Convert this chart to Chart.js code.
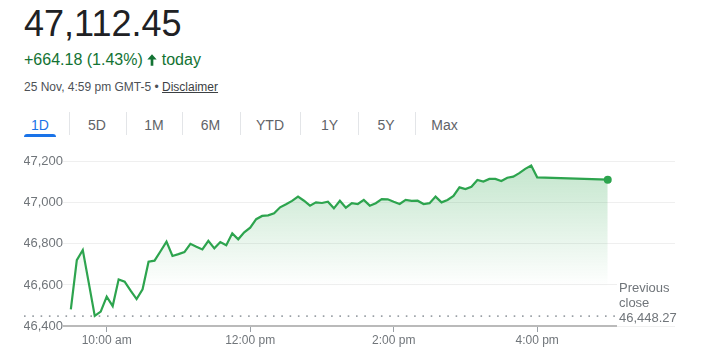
<!DOCTYPE html>
<html>
<head>
<meta charset="utf-8">
<script src="https://cdn.jsdelivr.net/npm/chart.js@4/dist/chart.umd.min.js"></script>
<style>
  html, body { margin: 0; padding: 0; background: #fff; }
  body { width: 706px; height: 356px; position: relative; overflow: hidden; font-family: Arial, "Liberation Sans", sans-serif; }
  .abs { position: absolute; white-space: nowrap; }
  #price { left: 24px; top: 5.5px; font-size: 36px; line-height: 36px; color: #202124; }
  #change { left: 24px; top: 51.5px; font-size: 16px; line-height: 16px; color: #137333; }
  #change svg { vertical-align: top; margin: 0 2px 0 1px; }
  #meta { left: 24px; top: 80.8px; font-size: 12px; line-height: 12px; color: #4d5156; }
  #meta u { color: #3c4043; }
  .tab { top: 117.5px; width: 80px; text-align: center; font-size: 14px; line-height: 14px; color: #5f6368; }
  .tab.active { color: #1a73e8; }
  .sep { top: 112px; width: 1px; height: 23px; background: #e3e5e8; }
  #underline { left: 24px; top: 134px; width: 32px; height: 3px; background: #1a73e8; border-radius: 3px 3px 0 0; }
  #chart { position: absolute; left: 0; top: 140px; }
</style>
</head>
<body>
<div id="price" class="abs">47,112.45</div>
<div id="change" class="abs">+664.18 (1.43%)<svg width="16" height="16" viewBox="0 0 24 24"><path fill="#137333" d="M12 3.5 L19 11.2 H14 V20.5 H10 V11.2 H5 Z"/></svg>today</div>
<div id="meta" class="abs">25 Nov, 4:59 pm GMT-5 • <u>Disclaimer</u></div>
<div id="tabs"></div>
<div id="underline" class="abs"></div>
<canvas id="chart" width="706" height="216"></canvas>
<script>
// ---- data ----
const TIMES = [
  "9:30","9:35","9:40","9:45","9:50","9:55",
  "10:00","10:05","10:10","10:15","10:20","10:25","10:30","10:35","10:40","10:45","10:50","10:55",
  "11:00","11:05","11:10","11:15","11:20","11:25","11:30","11:35","11:40","11:45","11:50","11:55",
  "12:00","12:05","12:10","12:15","12:20","12:25","12:30","12:35","12:40","12:45","12:50","12:55",
  "13:00","13:05","13:10","13:15","13:20","13:25","13:30","13:35","13:40","13:45","13:50","13:55",
  "14:00","14:05","14:10","14:15","14:20","14:25","14:30","14:35","14:40","14:45","14:50","14:55",
  "15:00","15:05","15:10","15:15","15:20","15:25","15:30","15:35","15:40","15:45","15:50","15:55",
  "16:00","16:59"
];
const PRICES = [
  46481, 46721, 46770, 46610, 46449, 46470,
  46543, 46497, 46627, 46616, 46572, 46531, 46579, 46713, 46718, 46764, 46811, 46741,
  46750, 46760, 46800, 46786, 46773, 46815, 46778, 46809, 46793, 46851, 46822, 46856,
  46879, 46920, 46936, 46939, 46949, 46978, 46993, 47009, 47030, 47010, 46986, 47002,
  46999, 47005, 46973, 47010, 46976, 46998, 46994, 47014, 46986, 46998, 47018, 47017,
  47005, 46994, 47014, 47009, 47010, 46994, 46998, 47030, 47002, 47014, 47033, 47075,
  47067, 47078, 47111, 47103, 47116, 47116, 47106, 47122, 47127, 47144, 47165, 47181,
  47124, 47112.45
];
const PREV_CLOSE = 46448.27;
const Y_TICKS = [46400, 46600, 46800, 47000, 47200];
const X_TICK_VALUES = ["10:00", "12:00", "14:00", "16:00"];
const X_TICK_LABELS = ["10:00 am", "12:00 pm", "2:00 pm", "4:00 pm"];
const TABS = ["1D", "5D", "1M", "6M", "YTD", "1Y", "5Y", "Max"];

// ---- header tabs ----
const tabCenters = [40, 97, 154, 210.5, 270, 329.5, 386, 444.5];
const tabsEl = document.getElementById('tabs');
TABS.forEach((t, i) => {
  const d = document.createElement('div');
  d.className = 'abs tab' + (i === 0 ? ' active' : '');
  d.style.left = (tabCenters[i] - 40) + 'px';
  d.textContent = t;
  tabsEl.appendChild(d);
  if (i > 0) {
    const s = document.createElement('div');
    s.className = 'abs sep';
    s.style.left = Math.round((tabCenters[i - 1] + tabCenters[i]) / 2) + 'px';
    tabsEl.appendChild(s);
  }
});

// ---- chart ----
const toMin = s => { const [h, m] = s.split(':').map(Number); return h * 60 + m; };
const points = TIMES.map((t, i) => ({ x: toMin(t), y: PRICES[i] }));
const xTickMins = X_TICK_VALUES.map(toMin);
const GREEN = '#2da44e';

const refPlugin = {
  id: 'refPlugin',
  beforeDatasetsDraw(chart) {
    const { ctx, scales: { x, y } } = chart;
    const yb = y.getPixelForValue(Y_TICKS[0]);
    const yp = y.getPixelForValue(PREV_CLOSE);
    ctx.save();
    // dotted previous-close line
    ctx.strokeStyle = '#9aa0a6';
    ctx.lineWidth = 1.6;
    ctx.setLineDash([1.6, 6.7]);
    ctx.beginPath();
    ctx.moveTo(24, yp);
    ctx.lineTo(616, yp);
    ctx.stroke();
    ctx.setLineDash([]);
    // axis line
    ctx.strokeStyle = '#bababa';
    ctx.lineWidth = 2;
    ctx.beginPath();
    ctx.moveTo(chart.chartArea.left, yb);
    ctx.lineTo(617, yb);
    ctx.stroke();
    ctx.restore();
  },
  afterDraw(chart) {
    const { ctx, scales: { y } } = chart;
    const yp = y.getPixelForValue(PREV_CLOSE);
    ctx.save();
    ctx.fillStyle = '#ffffff';
    ctx.fillRect(617, yp - 37, 70, 47);
    ctx.fillStyle = '#70757a';
    ctx.font = '13px Arial, "Liberation Sans", sans-serif';
    ctx.textAlign = 'left';
    ctx.textBaseline = 'middle';
    ctx.fillText('Previous', 619, yp - 28);
    ctx.fillText('close', 619, yp - 13);
    ctx.fillText(PREV_CLOSE.toLocaleString('en-US', { minimumFractionDigits: 2 }), 619, yp + 2);
    ctx.restore();
  }
};

new Chart(document.getElementById('chart'), {
  type: 'line',
  data: {
    datasets: [{
      data: points,
      borderColor: GREEN,
      borderWidth: 2.2,
      tension: 0,
      pointRadius: points.map((p, i) => i === points.length - 1 ? 4 : 0),
      pointBackgroundColor: GREEN,
      pointBorderColor: GREEN,
      pointBorderWidth: 0,
      fill: 'start',
      backgroundColor: (c) => {
        const area = c.chart.chartArea;
        if (!area) return 'rgba(52,168,83,0.2)';
        const g = c.chart.ctx.createLinearGradient(0, area.top, 0, area.top + 125);
        g.addColorStop(0, 'rgba(52,168,83,0.30)');
        g.addColorStop(1, 'rgba(52,168,83,0)');
        return g;
      }
    }]
  },
  options: {
    responsive: false,
    animation: false,
    devicePixelRatio: 1,
    layout: { padding: { left: 24, right: 31, top: 21.7, bottom: 0 } },
    plugins: { legend: { display: false }, tooltip: { enabled: false } },
    scales: {
      x: {
        type: 'linear',
        min: 563.45,
        max: 1075.25,
        afterFit: (s) => { s.height = 30; },
        afterBuildTicks: (s) => { s.ticks = xTickMins.map(v => ({ value: v })); },
        border: { display: false },
        grid: { drawOnChartArea: false, drawTicks: true, tickLength: 6, color: '#9aa0a6', lineWidth: 1 },
        ticks: {
          padding: 1,
          color: '#70757a',
          font: { family: 'Arial, "Liberation Sans", sans-serif', size: 12 },
          maxRotation: 0,
          autoSkip: false,
          callback: (v) => { const i = xTickMins.indexOf(v); return i >= 0 ? X_TICK_LABELS[i] : ''; }
        }
      },
      y: {
        min: Y_TICKS[0],
        max: Y_TICKS[Y_TICKS.length - 1],
        afterFit: (s) => { s.width = 39; },
        afterBuildTicks: (s) => { s.ticks = Y_TICKS.map(v => ({ value: v })); },
        border: { display: false },
        grid: { drawTicks: false, color: '#efefef', lineWidth: 1 },
        ticks: {
          padding: 0,
          color: '#70757a',
          font: { family: 'Arial, "Liberation Sans", sans-serif', size: 13 },
          callback: (v) => v.toLocaleString('en-US')
        }
      }
    }
  },
  plugins: [refPlugin]
});
</script>
</body>
</html>
